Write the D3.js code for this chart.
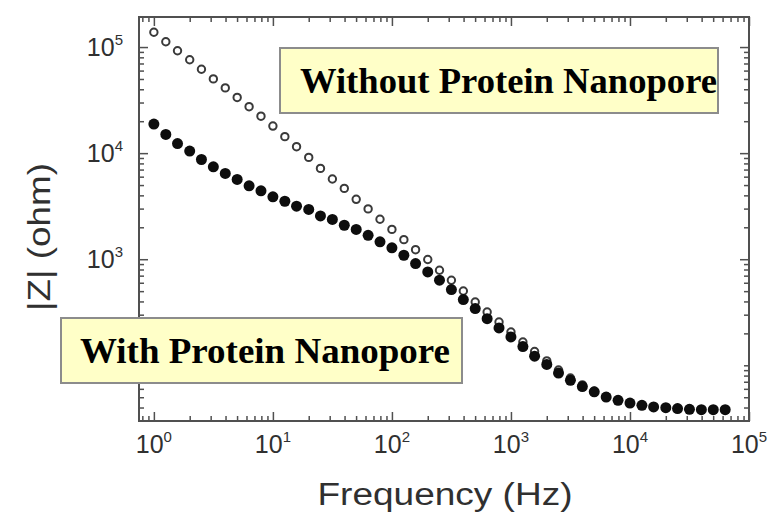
<!DOCTYPE html>
<html><head><meta charset="utf-8">
<script src="https://cdn.jsdelivr.net/npm/d3@7"></script>
<style>body{margin:0;background:#fff} svg{display:block}</style>
</head><body>
<svg id="c" width="770" height="515"></svg>
<script>
// ---- data ----
const frequencies = [1, 1.26, 1.58, 2, 2.51, 3.16, 3.98, 5.01, 6.31, 7.94,
  10, 12.6, 15.8, 20, 25.1, 31.6, 39.8, 50.1, 63.1, 79.4,
  100, 126, 158, 200, 251, 316, 398, 501, 631, 794,
  1000, 1260, 1580, 2000, 2510, 3160, 3980, 5010, 6310, 7940,
  10000, 12600, 15800, 20000, 25100, 31600, 39800, 50100, 63100];
const withoutPore = [138000, 112200, 92300, 75900, 61700, 50100, 41200, 33500, 27400, 22300,
  18000, 14300, 11500, 9120, 7180, 5710, 4650, 3670, 2980, 2380,
  1910, 1530, 1230, 993, 787, 634, 502, 395, 318, 256,
  206, 166, 135, 110, 90.2, 75.9, 65.3, 56.9, 50.7, 47.0,
  44.2, 42.1, 40.6, 39.8, 39.1, 38.5, 38.2, 38.2, 38.2];
const withPore = [18800, 15000, 12300, 10450, 8710, 7430, 6430, 5650, 4920, 4410,
  3870, 3520, 3160, 2950, 2560, 2370, 2090, 1910, 1680, 1460,
  1280, 1090, 910, 759, 634, 518, 417, 343, 275, 225,
  185, 150, 122, 102, 84.5, 72.1, 63.1, 56.2, 50.2, 46.8,
  44.1, 42.0, 40.5, 39.9, 39.1, 38.5, 38.2, 38.2, 38.2];
const xMajorTicks = [1, 10, 100, 1000, 10000, 100000];
const xTickExponents = ["0", "1", "2", "3", "4", "5"];
const yMajorTicks = [1000, 10000, 100000];
const yTickExponents = ["3", "4", "5"];
const xTitle = "Frequency (Hz)";
const yTitle = "|Z| (ohm)";
const labelWithout = "Without Protein Nanopore";
const labelWith = "With Protein Nanopore";

// ---- layout ----
const L = 139, R = 749, T = 17, B = 421;
const svg = d3.select("#c");
const x = d3.scaleLog().domain([0.75, 1e5]).range([L, R]);
const y = d3.scaleLog().domain([29.85, 1.92e5]).range([B, T]);
const frameColor = "#505050";

const xMinor = x.ticks().filter(v => v >= 0.75 && v <= 1e5 && !xMajorTicks.includes(v));
const yMinor = y.ticks().filter(v => v >= 29.85 && v <= 1.92e5 && !yMajorTicks.includes(v));

function styleAxis(g) {
  g.select(".domain").remove();
  g.selectAll(".tick line").attr("stroke", frameColor).attr("stroke-width", 1.5);
  g.selectAll(".tick text").remove();
}
const axes = [
  [d3.axisBottom(x), `translate(0,${B})`, xMinor, xMajorTicks],
  [d3.axisTop(x), `translate(0,${T})`, xMinor, xMajorTicks],
  [d3.axisLeft(y), `translate(${L},0)`, yMinor, yMajorTicks],
  [d3.axisRight(y), `translate(${R},0)`, yMinor, yMajorTicks]
];
axes.forEach(([ax, tr, minor, major]) => {
  svg.append("g").attr("transform", tr)
    .call(ax.tickValues(minor).tickSize(-5).tickFormat(""))
    .call(styleAxis);
  svg.append("g").attr("transform", tr)
    .call(ax.tickValues(major).tickSize(-9).tickFormat(""))
    .call(styleAxis);
});

// frame
svg.append("rect").attr("x", L).attr("y", T).attr("width", R - L).attr("height", B - T)
  .attr("fill", "none").attr("stroke", frameColor).attr("stroke-width", 2);

// tick labels
const tickFont = "'Liberation Sans', Arial, sans-serif";
xMajorTicks.forEach((v, i) => {
  const t = svg.append("text").attr("x", x(v)).attr("y", 453)
    .attr("text-anchor", "middle").attr("font-family", tickFont).attr("fill", "#303030");
  t.append("tspan").attr("font-size", 25).text("10");
  t.append("tspan").attr("font-size", 15).attr("dy", -11).text(xTickExponents[i]);
});
yMajorTicks.forEach((v, i) => {
  const t = svg.append("text").attr("x", 123).attr("y", y(v) + 9)
    .attr("text-anchor", "end").attr("font-family", tickFont).attr("fill", "#303030");
  t.append("tspan").attr("font-size", 25).text("10");
  t.append("tspan").attr("font-size", 15).attr("dy", -11).text(yTickExponents[i]);
});

// axis titles
svg.append("text").attr("x", 445).attr("y", 505).attr("text-anchor", "middle")
  .attr("font-family", tickFont).attr("font-size", 31).attr("fill", "#303030")
  .attr("textLength", 255).attr("lengthAdjust", "spacingAndGlyphs").text(xTitle);
svg.append("text").attr("transform", "translate(50,237) rotate(-90)").attr("text-anchor", "middle")
  .attr("font-family", tickFont).attr("font-size", 32).attr("fill", "#303030")
  .attr("textLength", 148).attr("lengthAdjust", "spacingAndGlyphs").text(yTitle);

// data points
const pts = frequencies.map((f, i) => ({f, a: withoutPore[i], b: withPore[i]}));
svg.append("g").selectAll("circle").data(pts).join("circle")
  .attr("cx", d => x(d.f)).attr("cy", d => y(d.a)).attr("r", 3.7)
  .attr("fill", "#fff").attr("stroke", "#3a3a3a").attr("stroke-width", 2);
svg.append("g").selectAll("circle").data(pts).join("circle")
  .attr("cx", d => x(d.f)).attr("cy", d => y(d.b)).attr("r", 5.5)
  .attr("fill", "#0d0d0d");

// annotation boxes
function note(bx, by, bw, bh, tx, ty, tw, txt) {
  svg.append("rect").attr("x", bx).attr("y", by).attr("width", bw).attr("height", bh)
    .attr("fill", "#ffffc8").attr("stroke", "#8c8c8c").attr("stroke-width", 2);
  svg.append("text").attr("x", tx).attr("y", ty)
    .attr("font-family", "'Liberation Serif', 'Times New Roman', serif")
    .attr("font-weight", "bold").attr("font-size", 36).attr("fill", "#000")
    .attr("textLength", tw).attr("lengthAdjust", "spacingAndGlyphs").text(txt);
}
note(280, 48, 438, 65, 300, 93, 417, labelWithout);
note(61, 318, 401, 65, 80, 363, 370, labelWith);
</script>
</body></html>
